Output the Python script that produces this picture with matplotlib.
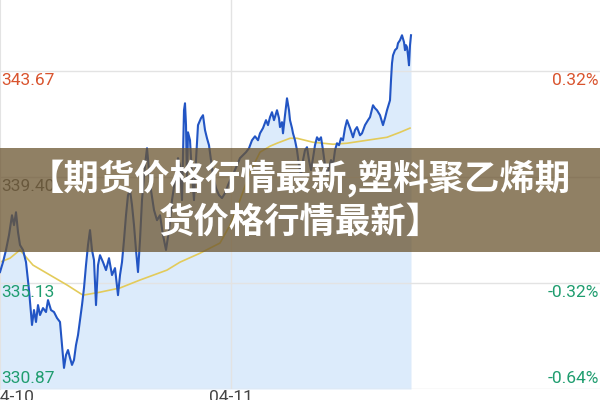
import matplotlib.pyplot as plt
from matplotlib.patches import Rectangle

# 分時データ（横軸は取引時間のサンプル番号）
t = [0, 3, 6, 9, 12, 14, 16, 18, 20, 23, 26, 29, 32, 34, 36, 38, 40, 43, 46, 48,
     51, 54, 57, 60, 62, 64, 66, 68, 70, 72, 74, 76, 78, 80, 82, 84, 86, 88, 90, 92,
     94, 96, 98, 100, 103, 106, 109, 112, 115, 118, 120, 122, 124, 126, 128, 130, 132, 134, 136, 138,
     140, 142, 145, 147, 149, 151, 154, 157, 160, 163, 166, 169, 172, 175, 178, 180, 182, 184, 185, 186,
     187, 188, 190, 192, 194, 196, 198, 201, 203, 205, 207, 209, 211, 213, 216, 219, 222, 225, 228, 231,
     234, 237, 240, 243, 246, 249, 252, 255, 258, 260, 263, 266, 268, 270, 272, 274, 277, 279, 280, 282,
     283, 285, 287, 289, 290, 292, 293, 295, 297, 299, 301, 303, 305, 307, 309, 311, 313, 315, 317, 319,
     321, 323, 325, 327, 329, 331, 333, 335, 337, 339, 341, 343, 345, 347, 350, 353, 355, 357, 360, 362,
     365, 368, 370, 373, 375, 377, 380, 383, 385, 387, 390, 391, 392, 393, 395, 397, 398, 400, 402, 404,
     405, 406, 407, 408, 409, 410, 411]
price = [335.58, 335.98, 336.47, 337.07, 337.87, 337.47, 337.99, 337.19, 336.67, 336.47,
         335.98, 334.86, 333.45, 334.05, 333.57, 334.25, 333.85, 334.13, 333.97, 334.45,
         334.05, 333.97, 333.73, 333.57, 332.64, 331.72, 332.24, 332.44, 332.12, 331.84,
         332.04, 332.64, 333.04, 333.65, 334.25, 334.94, 335.86, 336.67, 337.27, 336.47,
         336.06, 334.25, 335.86, 336.26, 335.98, 335.66, 336.14, 335.46, 335.74, 334.65,
         335.46, 335.98, 336.87, 337.87, 338.68, 338.88, 338.28, 337.47, 336.47, 335.58,
         336.87, 338.48, 339.89, 340.57, 339.69, 338.88, 338.08, 337.67, 337.87, 337.07,
         336.47, 337.27, 338.48, 339.28, 340.17, 339.89, 338.48, 342.10, 342.38, 341.50,
         339.28, 341.21, 340.89, 339.48, 338.48, 340.09, 341.50, 341.78, 341.90, 341.30,
         340.97, 340.69, 340.09, 339.48, 338.96, 338.68, 338.56, 338.76, 339.08, 339.36,
         339.60, 339.89, 340.17, 340.29, 340.41, 340.57, 340.89, 341.05, 340.89, 341.17,
         341.38, 341.70, 341.50, 341.82, 342.02, 341.70, 342.10, 341.78, 341.42, 341.62,
         341.17, 341.90, 342.58, 342.10, 341.70, 341.38, 341.17, 340.89, 340.49, 339.89,
         339.48, 340.09, 340.49, 340.61, 340.09, 339.69, 340.17, 340.69, 341.01, 340.89,
         341.01, 340.49, 339.89, 339.48, 339.77, 340.09, 339.89, 340.49, 340.77, 340.69,
         340.97, 340.89, 341.38, 341.70, 341.38, 341.01, 341.30, 341.42, 341.09, 341.17,
         341.50, 341.70, 341.82, 342.30, 342.18, 342.10, 341.90, 341.50, 341.78, 342.10,
         342.50, 343.31, 343.99, 344.31, 344.52, 344.60, 344.80, 344.92, 345.12, 344.84,
         344.52, 344.72, 344.64, 344.31, 343.91, 344.72, 345.12]

# 均価線
ma_t = [0, 10, 20, 27, 33, 50, 67, 83, 100, 120, 140, 167, 180, 200, 220,
        230, 240, 250, 260, 270, 277, 290, 297, 313, 333, 347, 367, 387, 400, 410]
ma_price = [335.98, 336.14, 336.47, 336.14, 335.86, 335.46, 335.06, 334.65, 334.77, 334.94,
            335.26, 335.66, 335.98, 336.34, 336.75, 337.47, 338.48, 339.60, 340.41, 340.65,
            340.77, 340.97, 340.97, 340.81, 340.73, 340.77, 340.89, 341.01, 341.21, 341.38]

# 軸ラベル
left_levels = [343.67, 339.40, 335.13, 330.87]
left_labels = ["343.67", "339.40", "335.13", "330.87"]
right_labels = ["0.32%", "", "-0.32%", "-0.64%"]
date_ticks = [0, 231]
date_labels = ["04-10", "04-11"]
t_end = 600

title = "【期货价格行情最新,塑料聚乙烯期\n货价格行情最新】"

RED = "#d9542e"
GREEN = "#1f9d6f"
GRAY = "#666666"
label_colors = [RED, GRAY, GREEN, GREEN]

plt.rcParams["font.family"] = ["Roboto", "DejaVu Sans"]

fig = plt.figure(figsize=(6, 4), dpi=100)
ax = fig.add_axes([0, 11 / 400, 1, 389 / 400])

y_min = left_levels[-1]
step = left_levels[0] - left_levels[1]
ax.set_ylim(y_min, y_min + step * 389 / 106)
ax.set_xlim(0, t_end)

# 面と線
ax.fill_between(t, price, y_min, color="#dcebfb", lw=0, zorder=1)
ax.plot(t, price, color="#2255c4", lw=1.5, zorder=3)
ax.plot(ma_t, ma_price, color="#e3cb5a", lw=1.2, zorder=2)

# グリッド
ax.set_yticks(left_levels)
ax.set_xticks(date_ticks[1:])
ax.grid(True, color="#e3e3e3", lw=1, zorder=0)
ax.tick_params(length=0, labelleft=False, labelbottom=False)
for s in ["top", "right", "bottom"]:
    ax.spines[s].set_visible(False)
ax.spines["left"].set_color("#e3e3e3")

# 左右の価格ラベル
for i, (lv, lab, rlab, c) in enumerate(zip(left_levels, left_labels, right_labels, label_colors)):
    va = "bottom" if i == len(left_levels) - 1 else "top"
    dy = 2 if va == "bottom" else -1
    ax.annotate(lab, xy=(0, lv), xytext=(1, dy), textcoords="offset points",
                ha="left", va=va, color=c, fontsize=12.5, zorder=5)
    if rlab:
        ax.annotate(rlab, xy=(t_end, lv), xytext=(-1, dy), textcoords="offset points",
                    ha="right", va=va, color=c, fontsize=12.5, zorder=5)

# 日付ラベル
ax.annotate(date_labels[0], xy=(date_ticks[0], y_min), xytext=(-7, -1), textcoords="offset points",
            ha="left", va="top", color="#444444", fontsize=12.5, annotation_clip=False)
ax.annotate(date_labels[1], xy=(date_ticks[1], y_min), xytext=(0, -1), textcoords="offset points",
            ha="center", va="top", color="#444444", fontsize=12.5, annotation_clip=False)

# タイトル帯
fig.patches.append(Rectangle((0, 1 - 252 / 400), 1, 104 / 400, transform=fig.transFigure,
                             facecolor="#6b5530", alpha=0.75, lw=0, zorder=10))
fig.text(0.5, 1 - 200 / 400, title, ha="center", va="center", color="white",
         fontsize=25.5, fontweight="bold", linespacing=1.22,
         family=["Noto Sans CJK SC", "DejaVu Sans"], zorder=11)

fig.savefig("out.png", dpi=100)
